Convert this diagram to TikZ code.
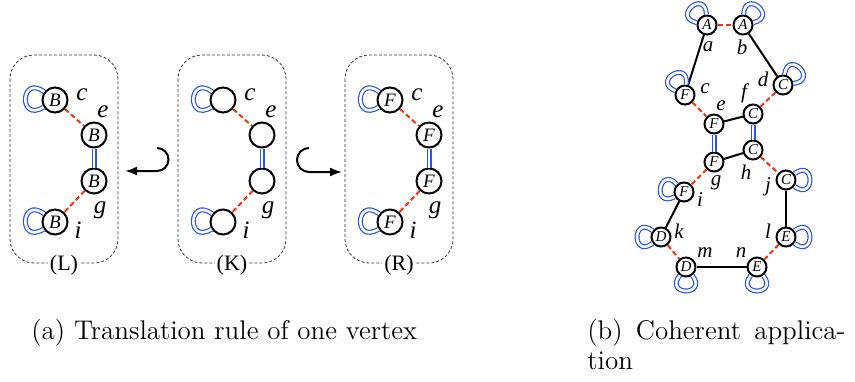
\documentclass[tikz,border=0pt]{standalone}
\usepackage{fontspec}
\newfontfamily\tms{Liberation Serif}
\usetikzlibrary{arrows.meta}
\definecolor{edgered}{RGB}{236,52,20}
\definecolor{loopblue}{RGB}{40,85,230}

\begin{document}
\begin{tikzpicture}[x=0.5pt,y=0.5pt,
  vtx/.style={circle, draw, line width=1pt, minimum size=12.5pt, inner sep=0pt,
    font=\tms\itshape\fontsize{9.5}{9.5}\selectfont},
  svtx/.style={vtx, minimum size=9.5pt, font=\tms\itshape\fontsize{7.5}{7.5}\selectfont},
  lbl/.style={inner sep=0pt, font=\tms\itshape\fontsize{12.5}{12.5}\selectfont},
  slbl/.style={inner sep=0pt, font=\tms\itshape\fontsize{10.5}{10.5}\selectfont},
  rdash/.style={draw=edgered, line width=1pt, dash pattern=on 2.5pt off 1.5pt},
  dbl/.style={draw=loopblue, double=white, double distance=1.3pt, line width=0.6pt},
  lp/.style={dbl, min distance=15pt},
  slp/.style={dbl, min distance=13pt},
  plain/.style={draw, line width=1pt},
  rulebox/.style={draw=black!80, line width=0.4pt, dash pattern=on 1.5pt off 1pt, rounded corners=12pt},
  boxlbl/.style={fill=white, inner sep=1pt, font=\tms\fontsize{11}{11}\selectfont},
  hook/.style={line width=1pt, -{Latex[length=6pt,width=4.5pt]}},
  capt/.style={anchor=base west, inner sep=0pt, font=\fontsize{13.5}{16}\selectfont}]
  \useasboundingbox (0,0) rectangle (855,-381);

  % (a) rule boxes
  \draw[rulebox] (10,-55) rectangle (118,-263);
  \draw[rulebox] (178,-55) rectangle (286,-263);
  \draw[rulebox] (345,-55) rectangle (453,-263);
  \node[boxlbl] (L) at (64,-265) {(L)};
  \node[boxlbl] (K) at (232,-265) {(K)};
  \node[boxlbl] (R) at (399,-265) {(R)};

  % left side
  \node[vtx] (Lc) at (55,-100) {B};
  \node[vtx] (Le) at (94,-135) {B};
  \node[vtx] (Lg) at (94,-181) {B};
  \node[vtx] (Li) at (55,-222) {B};
  \draw[rdash] (Lc) -- (Le);
  \draw[dbl] (Le) -- (Lg);
  \draw[rdash] (Lg) -- (Li);
  \draw[lp] (Lc) to[out=212,in=143] (Lc);
  \draw[lp] (Li) to[out=212,in=143] (Li);
  \node[lbl] at (82,-95) {c};
  \node[lbl] at (103,-112) {e};
  \node[lbl] at (100,-210) {g};
  \node[lbl] at (78,-230) {i};

  % interface
  \node[vtx] (Kc) at (223,-100) {};
  \node[vtx] (Ke) at (262,-135) {};
  \node[vtx] (Kg) at (262,-181) {};
  \node[vtx] (Ki) at (223,-222) {};
  \draw[rdash] (Kc) -- (Ke);
  \draw[dbl] (Ke) -- (Kg);
  \draw[rdash] (Kg) -- (Ki);
  \draw[lp] (Kc) to[out=212,in=143] (Kc);
  \draw[lp] (Ki) to[out=212,in=143] (Ki);
  \node[lbl] at (250,-95) {c};
  \node[lbl] at (271,-112) {e};
  \node[lbl] at (268,-210) {g};
  \node[lbl] at (246,-230) {i};

  % right side
  \node[vtx] (Rc) at (390,-100) {F};
  \node[vtx] (Re) at (429,-135) {F};
  \node[vtx] (Rg) at (429,-181) {F};
  \node[vtx] (Ri) at (390,-222) {F};
  \draw[rdash] (Rc) -- (Re);
  \draw[dbl] (Re) -- (Rg);
  \draw[rdash] (Rg) -- (Ri);
  \draw[lp] (Rc) to[out=212,in=143] (Rc);
  \draw[lp] (Ri) to[out=212,in=143] (Ri);
  \node[lbl] at (417,-95) {c};
  \node[lbl] at (438,-112) {e};
  \node[lbl] at (435,-210) {g};
  \node[lbl] at (413,-230) {i};

  % hook arrows
  \coordinate (hookL) at (157,-148);
  \coordinate (tipL) at (125,-171);
  \coordinate (hookR) at (309,-148);
  \coordinate (tipR) at (342,-172);
  \draw[hook] (hookL) arc[start angle=90, end angle=-90, radius=5.75pt] -- (tipL);
  \draw[hook] (hookR) arc[start angle=90, end angle=270, radius=6pt] -- (tipR);

  % (b) coherent application
  \node[svtx] (Va) at (707,-25) {A};
  \node[svtx] (Vb) at (743,-25) {A};
  \node[svtx] (Vc) at (685,-95) {F};
  \node[svtx] (Vd) at (783,-85) {C};
  \node[svtx] (Ve) at (714,-124) {F};
  \node[svtx] (Vf) at (753,-114) {C};
  \node[svtx] (Vg) at (714,-162) {F};
  \node[svtx] (Vh) at (753,-150) {C};
  \node[svtx] (Vi) at (684,-192) {F};
  \node[svtx] (Vj) at (786,-180) {C};
  \node[svtx] (Vk) at (661,-237) {D};
  \node[svtx] (Vl) at (786,-237) {E};
  \node[svtx] (Vm) at (686,-267) {D};
  \node[svtx] (Vn) at (757,-267) {E};
  \draw[rdash] (Va) -- (Vb);
  \draw[rdash] (Vc) -- (Ve);
  \draw[rdash] (Vd) -- (Vf);
  \draw[rdash] (Vg) -- (Vi);
  \draw[rdash] (Vh) -- (Vj);
  \draw[rdash] (Vk) -- (Vm);
  \draw[rdash] (Vl) -- (Vn);
  \draw[plain] (Va) -- (Vc);
  \draw[plain] (Vb) -- (Vd);
  \draw[plain] (Ve) -- (Vf);
  \draw[plain] (Vg) -- (Vh);
  \draw[plain] (Vi) -- (Vk);
  \draw[plain] (Vj) -- (Vl);
  \draw[plain] (Vm) -- (Vn);
  \draw[dbl] (Ve) -- (Vg);
  \draw[dbl] (Vf) -- (Vh);
  \draw[slp] (Va) to[out=167,in=93] (Va);
  \draw[slp] (Vb) to[out=87,in=13] (Vb);
  \draw[slp] (Vc) to[out=157,in=83] (Vc);
  \draw[slp] (Vd) to[out=82,in=8] (Vd);
  \draw[slp] (Vi) to[out=207,in=133] (Vi);
  \draw[slp] (Vj) to[out=37,in=-37] (Vj);
  \draw[slp] (Vk) to[out=217,in=143] (Vk);
  \draw[slp] (Vl) to[out=37,in=-37] (Vl);
  \draw[slp] (Vm) to[out=-53,in=-127] (Vm);
  \draw[slp] (Vn) to[out=-53,in=-127] (Vn);
  \node[slbl] at (708,-47) {a};
  \node[slbl] at (742,-47) {b};
  \node[slbl] at (705,-89) {c};
  \node[slbl] at (763,-79) {d};
  \node[slbl] at (721,-106) {e};
  \node[slbl] at (744,-93) {f};
  \node[slbl] at (716,-183) {g};
  \node[slbl] at (746,-172) {h};
  \node[slbl] at (700,-200) {i};
  \node[slbl] at (768,-187) {j};
  \node[slbl] at (679,-231) {k};
  \node[slbl] at (768,-231) {l};
  \node[slbl] at (705,-253) {m};
  \node[slbl] at (741,-253) {n};

  % captions
  \node[capt] (capA) at (31,-339) {(a) Translation rule of one vertex};
  \node[capt] (capB) at (587,-339) {\makebox[129pt][s]{(b) Coherent applica\mbox{-}}};
  \node[capt] (capC) at (587,-369) {tion};
\end{tikzpicture}
\end{document}
